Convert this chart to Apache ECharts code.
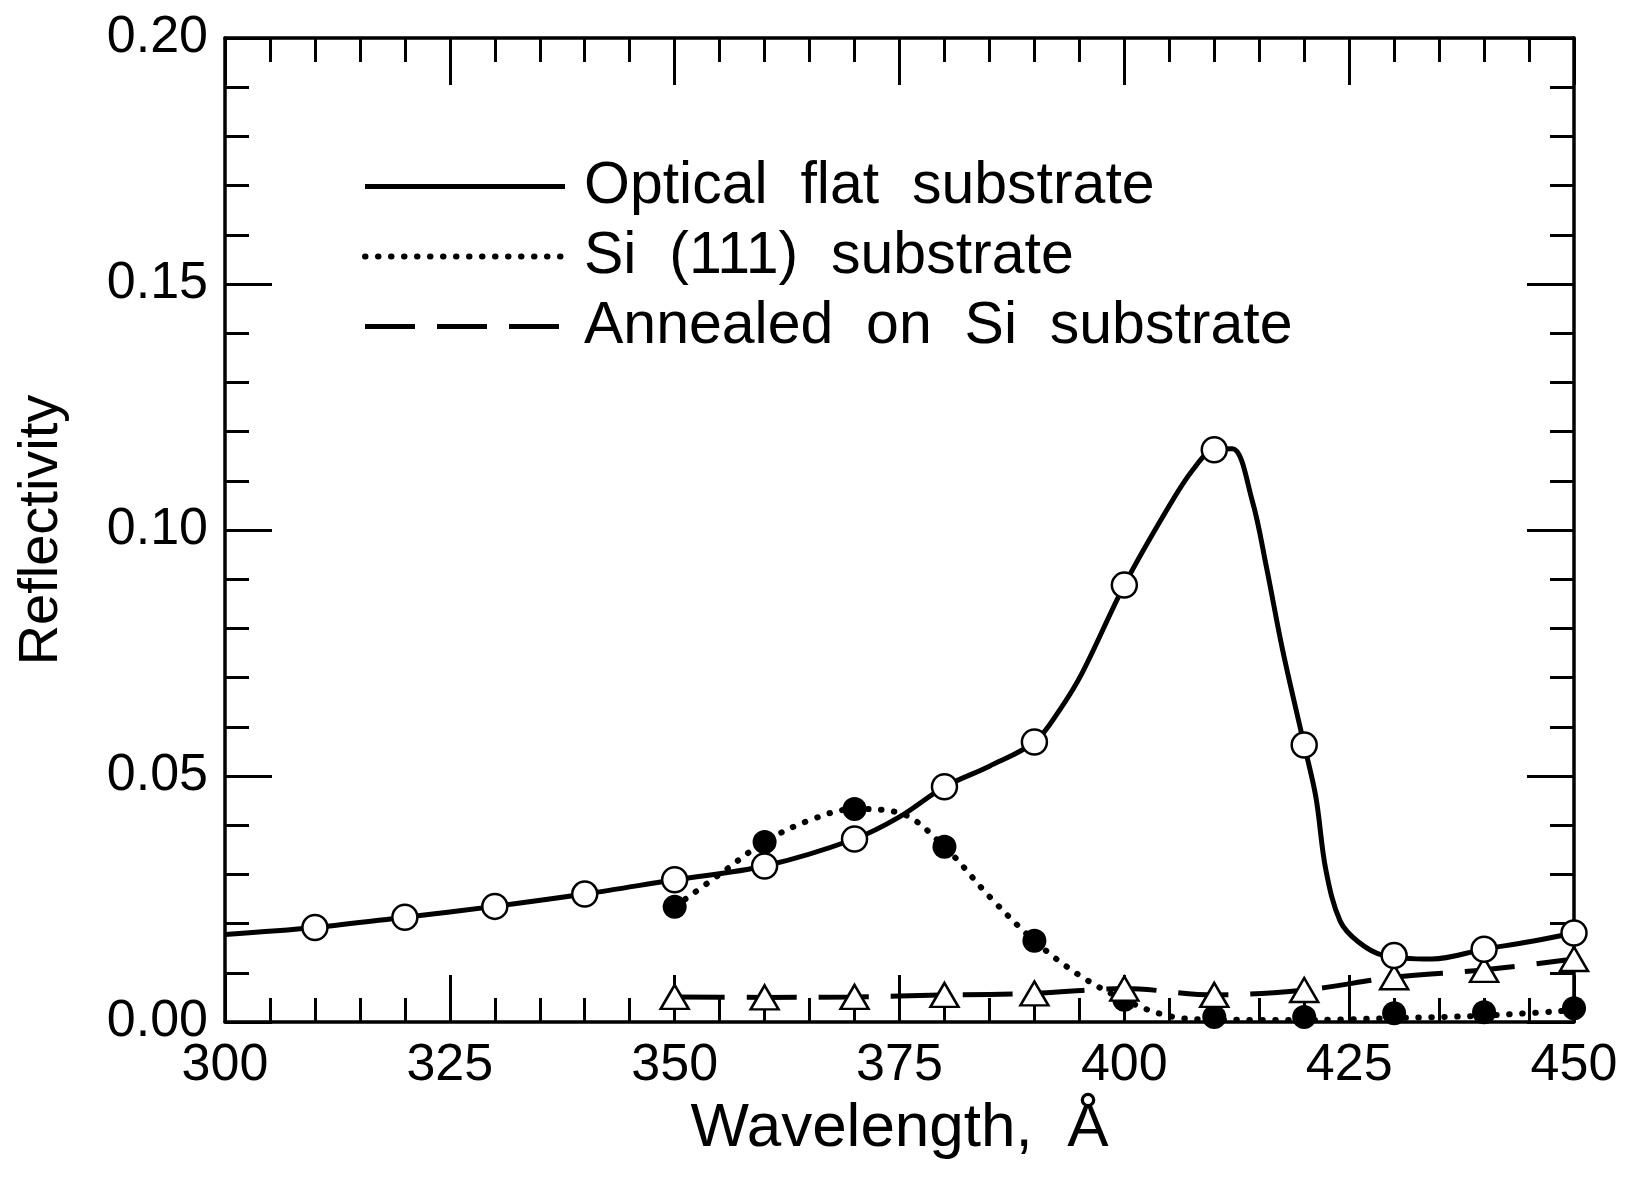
<!DOCTYPE html>
<html>
<head>
<meta charset="utf-8">
<script src="https://cdn.jsdelivr.net/npm/echarts@6/dist/echarts.min.js"></script>
<style>
  html, body { margin: 0; padding: 0; background: #fff; }
  #chart { width: 1632px; height: 1195px; }
</style>
</head>
<body>
<div id="chart"></div>
<script>
// measured points (wavelength in angstrom, reflectivity)
const markerWl = [310, 320, 330, 340, 350, 360, 370, 380, 390, 400, 410, 420, 430, 440, 450];
const opticalMarks = [0.0192, 0.0213, 0.0235, 0.0260, 0.0289, 0.0317, 0.0372, 0.0478, 0.0569, 0.0888, 0.1163, 0.0563, 0.0135, 0.0148, 0.0181];

const siWl = [350, 360, 370, 380, 390, 400, 410, 420, 430, 440, 450];
const siMarks = [0.0234, 0.0366, 0.0433, 0.0356, 0.0165, 0.0045, 0.0010, 0.0010, 0.0018, 0.0020, 0.0028];
const annealedMarks = [0.0051, 0.0050, 0.0051, 0.0055, 0.0058, 0.0068, 0.0055, 0.0065, 0.0091, 0.0106, 0.0128];

// drawn curves
const opticalCurveWl = [300, 310, 320, 330, 340, 350, 360, 370, 375, 380, 385, 390, 392.8, 395.3, 400, 404.7, 407.6, 410, 412, 414.2, 415.8, 417.6, 420, 421.3, 422.4, 424, 426, 428.7, 434.2, 440, 445, 450];
const opticalCurve = [0.0178, 0.0192, 0.0213, 0.0235, 0.0260, 0.0289, 0.0317, 0.0372, 0.0417, 0.0478, 0.0520, 0.0569, 0.0634, 0.0709, 0.0888, 0.1040, 0.1122, 0.1163, 0.1165, 0.1061, 0.0925, 0.0756, 0.0563, 0.0457, 0.0310, 0.0205, 0.0163, 0.0136, 0.0128, 0.0148, 0.0163, 0.0181];

const siCurveWl = [350, 355, 360, 365, 370, 375, 380, 385, 390, 395, 400, 405, 410, 420, 430, 440, 450];
const siCurve = [0.0234, 0.0300, 0.0366, 0.0410, 0.0433, 0.0425, 0.0356, 0.0255, 0.0165, 0.0095, 0.0045, 0.0012, 0.0005, 0.0004, 0.0008, 0.0013, 0.0024];

const xTicks = { min: 300, max: 450, interval: 25 };
const yTicks = { min: 0, max: 0.2, interval: 0.05 };

const FONT = '"Liberation Sans", Arial, sans-serif';
const pairs = (xs, ys) => xs.map((x, i) => [x, ys[i]]);

const solid = { color: '#000', width: 5 };
const dotted = { color: '#000', width: 6, type: [0.5, 12.5], cap: 'round' };
const dashed = { color: '#000', width: 5, type: [50, 22] };

const chart = echarts.init(document.getElementById('chart'));

function xAxis(pos, labels) {
  return {
    type: 'value', position: pos, min: xTicks.min, max: xTicks.max, interval: xTicks.interval,
    name: labels ? 'Wavelength,  Å' : '', nameLocation: 'middle', nameGap: 76,
    nameTextStyle: { fontFamily: FONT, fontSize: 62, color: '#000' },
    axisLine: { show: true, onZero: false, lineStyle: { color: '#000', width: 3.5 } },
    axisTick: { show: true, inside: true, length: 47, lineStyle: { color: '#000', width: 3 } },
    minorTick: { show: true, splitNumber: 5, length: 24, lineStyle: { color: '#000', width: 3 } },
    axisLabel: { show: labels, margin: 18, fontFamily: FONT, fontSize: 52, color: '#000' },
    splitLine: { show: false }
  };
}

function yAxis(pos, labels) {
  return {
    type: 'value', position: pos, min: yTicks.min, max: yTicks.max, interval: yTicks.interval,
    name: labels ? 'Reflectivity' : '', nameLocation: 'middle', nameGap: 155,
    nameTextStyle: { fontFamily: FONT, fontSize: 56, color: '#000' },
    axisLine: { show: true, onZero: false, lineStyle: { color: '#000', width: 3.5 } },
    axisTick: { show: true, inside: true, length: 47, lineStyle: { color: '#000', width: 3 } },
    minorTick: { show: true, splitNumber: 5, length: 24, lineStyle: { color: '#000', width: 3 } },
    axisLabel: { show: labels, margin: 17, fontFamily: FONT, fontSize: 52, color: '#000',
      formatter: v => v.toFixed(2) },
    splitLine: { show: false }
  };
}

chart.setOption({
  backgroundColor: '#fff',
  animation: false,
  grid: { left: 225, right: 58, top: 38, bottom: 173 },
  xAxis: [xAxis('bottom', true), xAxis('top', false)],
  yAxis: [yAxis('left', true), yAxis('right', false)],
  legend: {
    orient: 'vertical', left: 362, top: 157, padding: 0,
    itemWidth: 200, itemHeight: 20, itemGap: 11,
    itemStyle: { opacity: 0 },
    data: [
      { name: 'Optical  flat  substrate', lineStyle: solid },
      { name: 'Si  (111)  substrate', lineStyle: dotted },
      { name: 'Annealed  on  Si  substrate', lineStyle: dashed }
    ],
    textStyle: { fontFamily: FONT, fontSize: 59, color: '#000', padding: [0, 0, 0, 14], lineHeight: 54 }
  },
  series: [
    {
      name: 'Optical  flat  substrate', type: 'line', smooth: 0.35, symbol: 'none',
      data: pairs(opticalCurveWl, opticalCurve),
      lineStyle: solid, z: 2
    },
    {
      name: 'Si  (111)  substrate', type: 'line', smooth: 0.35, symbol: 'none',
      data: pairs(siCurveWl, siCurve),
      lineStyle: dotted, z: 2
    },
    {
      name: 'Annealed  on  Si  substrate', type: 'line', smooth: 0.35, symbol: 'none',
      data: pairs(siWl, annealedMarks),
      lineStyle: dashed, z: 2
    },
    {
      name: 'si-marks', type: 'scatter', symbol: 'circle', symbolSize: 24,
      data: pairs(siWl, siMarks),
      itemStyle: { color: '#000', opacity: 1 }, z: 3
    },
    {
      name: 'annealed-marks', type: 'scatter', symbol: 'triangle', symbolSize: [28, 24],
      data: pairs(siWl, annealedMarks),
      itemStyle: { color: '#fff', borderColor: '#000', borderWidth: 2.5, opacity: 1 }, z: 4
    },
    {
      name: 'optical-marks', type: 'scatter', symbol: 'circle', symbolSize: 25,
      data: pairs(markerWl, opticalMarks),
      itemStyle: { color: '#fff', borderColor: '#000', borderWidth: 2.5, opacity: 1 }, z: 5
    }
  ]
});
</script>
</body>
</html>
